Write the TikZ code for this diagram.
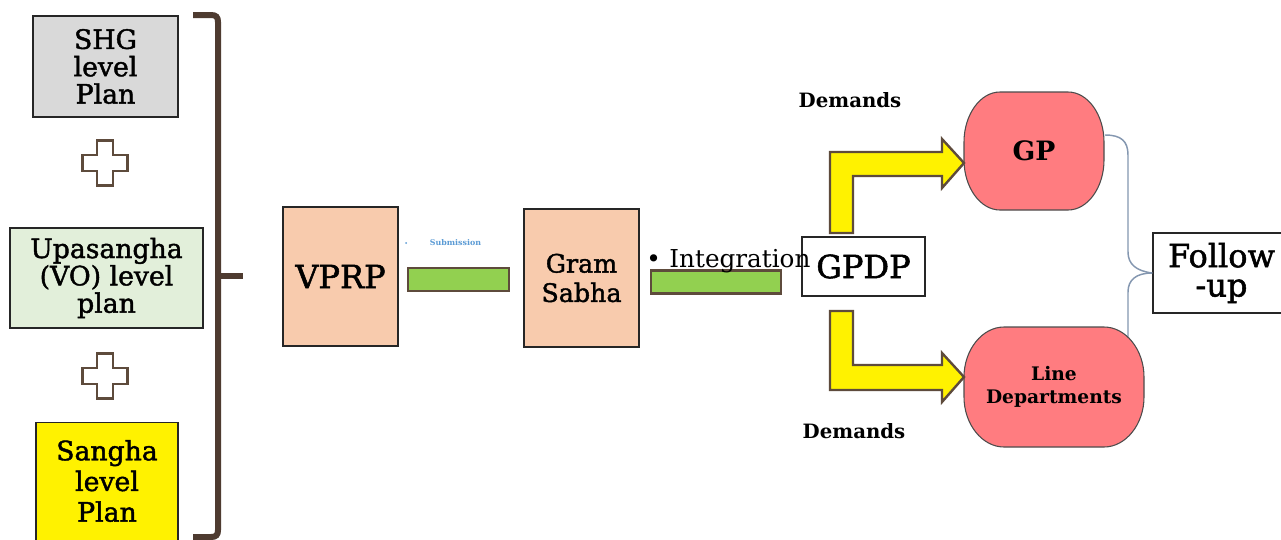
\documentclass[tikz,border=0pt]{standalone}
\usepackage{fontspec}
\setmainfont{DejaVu Serif}
\newfontfamily\hvserif{DejaVu Serif}[FakeBold=1.6]
\definecolor{boxgray}{HTML}{D9D9D9}
\definecolor{boxgreen}{HTML}{E2EFDA}
\definecolor{peach}{HTML}{F8CBAD}
\definecolor{bargreen}{HTML}{92D050}
\definecolor{salmon}{HTML}{FF7C80}
\definecolor{brownline}{HTML}{4E3B30}
\definecolor{plusbrown}{HTML}{5E4B3C}
\definecolor{slate}{HTML}{8497B0}
\definecolor{subblue}{HTML}{5B9BD5}
\tikzset{
  plainbox/.style={draw=black!85, line width=1.1pt, inner sep=0pt, align=center},
  leftfont/.style={font=\hvserif\fontsize{20}{20.5}\selectfont},
  barbox/.style={draw=plusbrown, fill=bargreen, line width=2.2pt, inner sep=0pt, minimum width=75.75pt, minimum height=17.25pt},
  bentarrow/.style={draw=plusbrown, fill=yellow, line width=1.8pt, line join=miter},
  capsule/.style={draw=black!70, fill=salmon, line width=0.8pt},
  followline/.style={draw=slate, line width=1.1pt},
  bracket/.style={draw=brownline, line width=4.5pt},
  plusmark/.pic={
    \draw[draw=plusbrown, fill=white, line width=1.8pt]
      (-8,-22.5) -- ++(16,0) -- ++(0,14.5) -- ++(14.5,0) -- ++(0,16) -- ++(-14.5,0)
      -- ++(0,14.5) -- ++(-16,0) -- ++(0,-14.5) -- ++(-14.5,0) -- ++(0,-16) -- ++(14.5,0) -- cycle;
  }
}
\begin{document}
\begin{tikzpicture}[x=0.75pt, y=-0.75pt]
\useasboundingbox (0,0) rectangle (1281,539);
\clip (0,0) rectangle (1281,539);
\fill[white] (0,0) rectangle (1281,539);

% left column
\node[plainbox, leftfont, fill=boxgray, minimum width=108.75pt, minimum height=75.75pt] (shg) at (105.5,66.5) {SHG\\level\\Plan};
\pic at (105,163) {plusmark};
\node[plainbox, leftfont, fill=boxgreen, minimum width=144.75pt, minimum height=75pt] (upa) at (106.5,278) {Upasangha\\(VO) level\\plan};
\pic at (105,376) {plusmark};
\node[plainbox, fill=yellow, minimum width=106.5pt, minimum height=102.75pt] (san) at (107,491) {};
\node[font=\hvserif\fontsize{20}{23}\selectfont, align=center, inner sep=0pt] (santext) at (107,481) {Sangha\\level\\Plan};

% bracket
\draw[bracket] (193,15) -- (211,15) .. controls (216,15) and (218,17) .. (218,22) -- (218,530)
  .. controls (218,535) and (216,537) .. (211,537) -- (193,537);
\coordinate (bracetip) at (243,276);
\draw[bracket] (218,276) -- (bracetip);

% middle
\node[plainbox, fill=peach, font=\hvserif\fontsize{24}{26}\selectfont, minimum width=86.25pt, minimum height=104.25pt] (vprp) at (340.5,276.5) {VPRP};
\node[font=\bfseries\fontsize{5.9}{6}\selectfont, text=subblue, inner sep=0pt] (sub) at (455.5,243) {Submission};
\node[fill=subblue, circle, inner sep=0pt, minimum size=1.5pt] (subdot) at (406,243) {};
\node[barbox] (bar1) at (458.5,279.5) {};
\node[plainbox, fill=peach, font=\hvserif\fontsize{19}{22}\selectfont, minimum width=86.25pt, minimum height=103.5pt] (gram) at (581.5,278) {Gram\\Sabha};
\node[barbox, minimum width=97.5pt] (bar2) at (716,282) {};
\node[plainbox, fill=white, font=\hvserif\fontsize{24}{26}\selectfont, minimum width=92.25pt, minimum height=44.25pt] (gpdp) at (863.5,266.5) {GPDP};
\node[font=\fontsize{18.5}{20}\selectfont, inner sep=0pt, anchor=base west] (integ) at (646,267) {\textbullet\hspace{0.35em}Integration};

% demands labels
\node[font=\bfseries\fontsize{14.8}{16}\selectfont, inner sep=0pt] (dem1) at (850,100) {Demands};
\node[font=\bfseries\fontsize{14.8}{16}\selectfont, inner sep=0pt] (dem2) at (854,431) {Demands};

% follow-up connector
\coordinate (gpr) at (1105,135);
\coordinate (ldt) at (1128,345);
\node[plainbox, fill=white, font=\hvserif\fontsize{24}{22}\selectfont, minimum width=102.75pt, minimum height=60pt] (fol) at (1221.5,273) {Follow\\-up};
\draw[followline] (gpr) .. controls (1121,135) and (1128,141) .. (1128,155) -- (1128,252)
  .. controls (1128,264) and (1136,271) .. (fol.west);
\draw[followline] (fol.west) .. controls (1136,273) and (1128,280) .. (1128,292) -- (ldt);

% capsules
\draw[capsule] (1000,92) -- (1068,92) .. controls (1088,92) and (1104,115) .. (1104,142) -- (1104,160)
  .. controls (1104,187) and (1088,210) .. (1068,210) -- (1000,210)
  .. controls (980,210) and (964,187) .. (964,160) -- (964,142)
  .. controls (964,115) and (980,92) .. (1000,92) -- cycle;
\node[font=\bfseries\fontsize{20}{22}\selectfont, minimum width=105pt, minimum height=88.5pt, inner sep=0pt] (gp) at (1034,151) {GP};
\draw[capsule] (1004,327) -- (1104,327) .. controls (1126,327) and (1144,350) .. (1144,377) -- (1144,397)
  .. controls (1144,424) and (1126,447) .. (1104,447) -- (1004,447)
  .. controls (982,447) and (964,424) .. (964,397) -- (964,377)
  .. controls (964,350) and (982,327) .. (1004,327) -- cycle;
\node[font=\bfseries\fontsize{14}{17}\selectfont, align=center, minimum width=135pt, minimum height=90pt, inner sep=0pt] (ld) at (1054,387) {Line\\Departments};

% bent arrows
\draw[bentarrow] (830,233) -- (830,152) -- (942,152) -- (942,139) -- (964,163) -- (942,188) -- (942,176) -- (853,176) -- (853,233) -- cycle;
\draw[bentarrow] (830,311) -- (853,311) -- (853,365) -- (942,365) -- (942,353) -- (964,377) -- (942,402) -- (942,390) -- (830,390) -- cycle;
\end{tikzpicture}
\end{document}
